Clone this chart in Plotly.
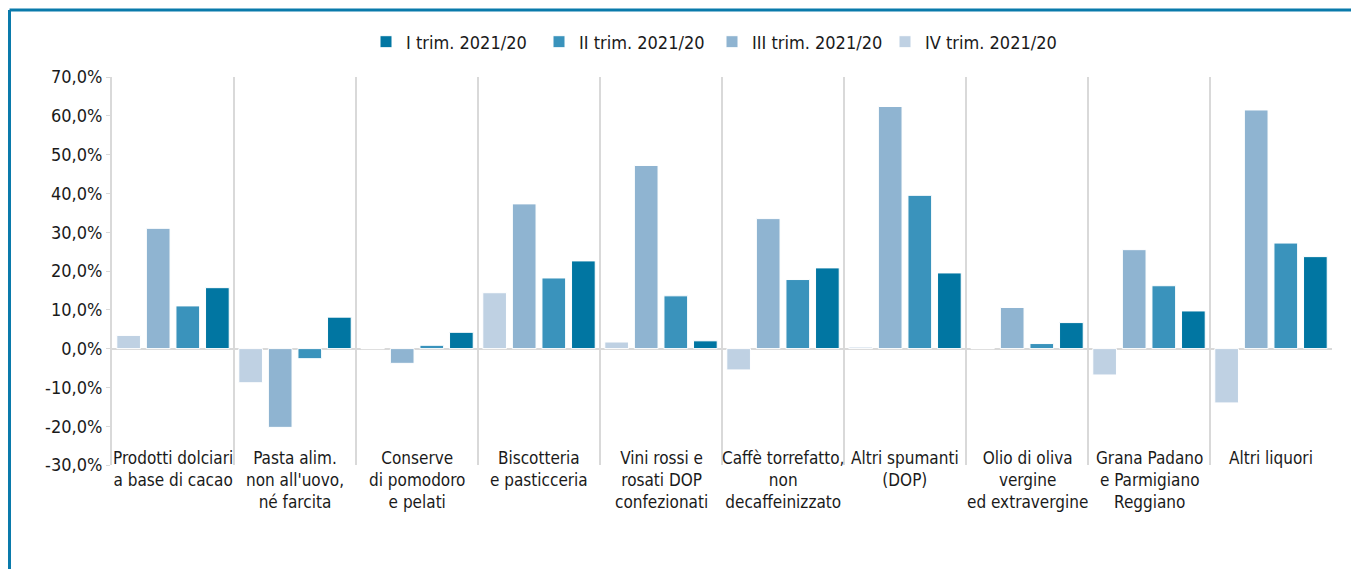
import plotly.graph_objects as go

categories = [
    "Prodotti dolciari<br>a base di cacao",
    "Pasta alim.<br>non all'uovo,<br>né farcita",
    "Conserve<br>di pomodoro<br>e pelati",
    "Biscotteria<br>e pasticceria",
    "Vini rossi e<br>rosati DOP<br>confezionati",
    "Caffè torrefatto,<br>non<br>decaffeinizzato",
    "Altri spumanti<br>(DOP)",
    "Olio di oliva<br>vergine<br>ed extravergine",
    "Grana Padano<br>e Parmigiano<br>Reggiano",
    "Altri liquori",
]
cat_ids = [f"c{i}" for i in range(len(categories))]

series_names = ["I trim. 2021/20", "II trim. 2021/20", "III trim. 2021/20", "IV trim. 2021/20"]
q1 = [15.7, 8.1, 4.2, 22.6, 2.0, 20.8, 19.5, 6.7, 9.7, 23.7]
q2 = [11.0, -2.6, 0.85, 18.2, 13.6, 17.8, 39.5, 1.3, 16.2, 27.2]
q3 = [31.0, -20.3, -3.8, 37.3, 47.2, 33.5, 62.4, 10.6, 25.5, 61.5]
q4 = [3.4, -8.8, 0.0, 14.4, 1.7, -5.5, 0.4, 0.0, -6.8, -14.0]
colors = ["#0176A2", "#3A93BC", "#8FB4D1", "#BFD1E3"]

y_ticks = [-30, -20, -10, 0, 10, 20, 30, 40, 50, 60, 70]
y_tick_text = ["-30,0%", "-20,0%", "-10,0%", "0,0%", "10,0%", "20,0%", "30,0%",
               "40,0%", "50,0%", "60,0%", "70,0%"]

FONT = "DejaVu Sans Condensed, Liberation Sans Narrow, sans-serif"

fig = go.Figure()
values = [q1, q2, q3, q4]
# draw order left to right within group: IV, III, II, I
for idx in [3, 2, 1, 0]:
    fig.add_trace(go.Bar(
        x=cat_ids, y=values[idx], name=series_names[idx],
        marker=dict(color=colors[idx], line=dict(color="white", width=1)),
    ))

# page has an 8px body margin; compensate so pixel positions match the window
OFF = 8
W, H = 1359 - OFF, 569 - OFF
L, R, T, B = 112 - OFF, 27, 77 - OFF, 104
pw, ph = W - L - R, H - T - B

def px_x(p):
    return (p - OFF - L) / pw

def px_y(p):
    return (H - B - (p - OFF)) / ph

for cid, lab in zip(cat_ids, categories):
    fig.add_annotation(
        x=cid, xref="x", y=px_y(446), yref="paper", yanchor="top",
        text=lab, showarrow=False, align="center",
        font=dict(family=FONT, size=17, color="#1a1a1a"),
    )

# frame lines (top and left, blue)
fig.add_shape(type="line", xref="paper", yref="paper",
              x0=px_x(9.5), x1=px_x(1370), y0=px_y(10), y1=px_y(10),
              line=dict(color="#0a7aab", width=3))
fig.add_shape(type="line", xref="paper", yref="paper",
              x0=px_x(9.5), x1=px_x(9.5), y0=px_y(10), y1=px_y(580),
              line=dict(color="#0a7aab", width=3))

fig.update_layout(
    width=W, height=H,
    margin=dict(l=L, r=R, t=T, b=B),
    paper_bgcolor="white", plot_bgcolor="white",
    barmode="group", bargap=0.03, bargroupgap=0.2,
    font=dict(family=FONT, size=17, color="#1a1a1a"),
    legend=dict(orientation="h", traceorder="reversed",
                x=px_x(712), xanchor="center", y=px_y(42), yanchor="middle",
                font=dict(family=FONT, size=18, color="#1a1a1a"),
                itemwidth=30, entrywidth=128, bgcolor="rgba(0,0,0,0)"),
    showlegend=True,
)
fig.update_xaxes(
    type="category", tickson="boundaries", showgrid=True,
    gridcolor="#d9d9d9", gridwidth=2, showticklabels=False,
    ticks="", showline=False, zeroline=False,
    range=[-0.5, len(categories) - 0.5],
)
fig.update_yaxes(
    range=[-30, 70], tickvals=y_ticks, ticktext=y_tick_text,
    showgrid=False, zeroline=True, zerolinecolor="#d9d9d9", zerolinewidth=2,
    showline=True, linecolor="#d9d9d9", linewidth=2,
    ticks="outside", ticklen=4, tickcolor="#d9d9d9",
    tickfont=dict(family=FONT, size=18, color="#1a1a1a"),
)

fig.write_html("out.html")
